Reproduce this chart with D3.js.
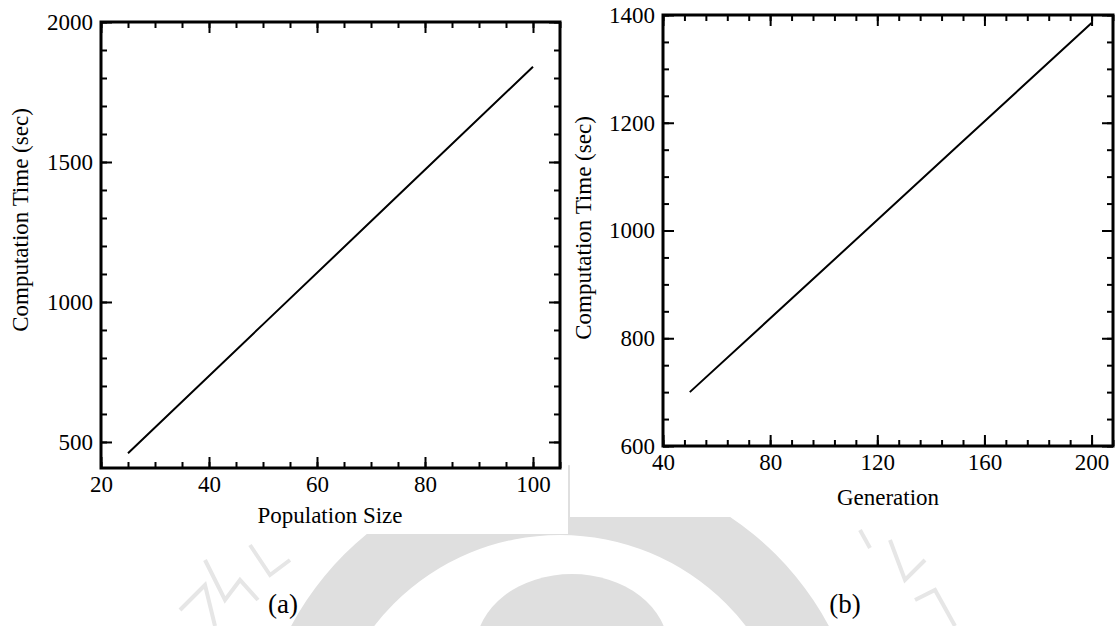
<!DOCTYPE html>
<html>
<head>
<meta charset="utf-8">
<script src="https://cdn.jsdelivr.net/npm/d3@7/dist/d3.min.js"></script>
<style>
    body { margin: 0; background: #fff; }
    text { font-family: "Liberation Serif", "Times New Roman", serif; fill: #000; }
</style>
</head>
<body>
<svg id="figura" width="1115" height="626"></svg>
<script>
// Datos del grafico (a): tiempo frente a tamaño de poblacion
var poblacion = [25, 50, 75, 100];
var tiempoPoblacion = [460, 920, 1380, 1840];
var ticksPoblacion = [20, 40, 60, 80, 100];
var ticksTiempoA = [500, 1000, 1500, 2000];

// Datos del grafico (b): tiempo frente a generaciones
var generaciones = [50, 100, 150, 200];
var tiempoGeneracion = [700, 928, 1157, 1385];
var ticksGeneracion = [40, 80, 120, 160, 200];
var ticksTiempoB = [600, 800, 1000, 1200, 1400];

var svg = d3.select("#figura");
var FUENTE = "'Liberation Serif', 'Times New Roman', serif";

/**
 * Marca de agua gris del fondo (anillo, cupula y trazos laterales)
 */
function dibujarMarcaAgua() {
    var g = svg.append("g").attr("fill", "#dfdfdf");
    var anillo = d3.arc()
        .innerRadius(235)
        .outerRadius(305)
        .startAngle(0)
        .endAngle(2 * Math.PI);
    g.append("path")
        .attr("transform", "translate(560,770)")
        .attr("d", anillo());
    g.append("ellipse")
        .attr("cx", 572).attr("cy", 648)
        .attr("rx", 96).attr("ry", 74);

    // Trazos tenues a los lados
    var trazos = [
        [[205, 560], [225, 600], [240, 580], [258, 600]],
        [[180, 610], [205, 585], [215, 626]],
        [[250, 545], [270, 575], [290, 560]],
        [[890, 540], [905, 580], [925, 560]],
        [[915, 600], [935, 590], [955, 626]],
        [[860, 530], [870, 548]]
    ];
    svg.append("g").selectAll("path")
        .data(trazos)
        .enter().append("path")
        .attr("d", d3.line())
        .attr("fill", "none")
        .attr("stroke", "#e6e6e6")
        .attr("stroke-width", 4);
}

/**
 * Dibuja un panel con marco, ticks en los cuatro lados y la linea
 */
function dibujarPanel(cfg) {
    // Fondo blanco del panel (tapa la marca de agua)
    svg.append("rect")
        .attr("x", cfg.fondo[0]).attr("y", cfg.fondo[1])
        .attr("width", cfg.fondo[2]).attr("height", cfg.fondo[3])
        .attr("fill", "#fff");

    var g = svg.append("g")
        .attr("transform", "translate(" + cfg.left + "," + cfg.top + ")");

    var x = d3.scaleLinear().domain(cfg.xDom).range([0, cfg.width]);
    var y = d3.scaleLinear().domain(cfg.yDom).range([cfg.height, 0]);

    var xMenores = d3.range(cfg.xDom[0], cfg.xDom[1] + 0.01, cfg.xPaso);
    var yMenores = d3.range(cfg.yMin, cfg.yDom[1] + 0.01, cfg.yPaso);

    // Ticks menores y mayores en los cuatro lados, hacia dentro
    function ejes(generador, valores, tam, trans, conTexto) {
        var eje = generador.tickValues(valores).tickSizeInner(-tam).tickSizeOuter(0).tickPadding(8)
            .tickFormat(conTexto ? d3.format("d") : "");
        var sel = g.append("g").attr("transform", trans).call(eje)
            .attr("font-family", FUENTE).attr("font-size", 23);
        sel.select(".domain").remove();
        sel.selectAll("line").attr("stroke", "#000").attr("stroke-width", 2);
        sel.selectAll("text").attr("fill", "#000");
        return sel;
    }
    ejes(d3.axisBottom(x), xMenores, 6, "translate(0," + cfg.height + ")", false);
    ejes(d3.axisBottom(x), cfg.xTicks, 11, "translate(0," + cfg.height + ")", true)
        .selectAll("text").attr("dy", "0.7em");
    ejes(d3.axisTop(x), xMenores, 6, "translate(0,0)", false);
    ejes(d3.axisTop(x), cfg.xTicks, 11, "translate(0,0)", false);
    ejes(d3.axisLeft(y), yMenores, 6, "translate(0,0)", false);
    ejes(d3.axisLeft(y), cfg.yTicks, 11, "translate(0,0)", true);
    ejes(d3.axisRight(y), yMenores, 6, "translate(" + cfg.width + ",0)", false);
    ejes(d3.axisRight(y), cfg.yTicks, 11, "translate(" + cfg.width + ",0)", false);

    // Marco
    g.append("rect")
        .attr("width", cfg.width).attr("height", cfg.height)
        .attr("fill", "none").attr("stroke", "#000").attr("stroke-width", 3);

    // Linea de datos
    var puntos = cfg.xs.map(function (d, i) { return [d, cfg.ys[i]]; });
    var linea = d3.line()
        .x(function (d) { return x(d[0]); })
        .y(function (d) { return y(d[1]); });
    g.append("path")
        .datum(puntos)
        .attr("d", linea)
        .attr("fill", "none")
        .attr("stroke", "#000")
        .attr("stroke-width", 2);

    // Titulos de los ejes
    svg.append("text")
        .attr("x", cfg.xLab[0]).attr("y", cfg.xLab[1])
        .attr("text-anchor", "middle")
        .style("font-size", "23px")
        .text(cfg.xTitulo);
    svg.append("text")
        .attr("transform", "translate(" + cfg.yLab[0] + "," + cfg.yLab[1] + ") rotate(-90)")
        .attr("text-anchor", "middle")
        .style("font-size", "23px")
        .text(cfg.yTitulo);

    // Subtitulo (a) / (b)
    svg.append("text")
        .attr("x", cfg.sub[0]).attr("y", cfg.sub[1])
        .attr("text-anchor", "middle")
        .style("font-size", "27px")
        .text(cfg.subTexto);
}

dibujarMarcaAgua();

dibujarPanel({
    fondo: [0, 0, 568, 534],
    left: 101, top: 22, width: 459, height: 446,
    xDom: [20, 105], yDom: [407, 2000], yMin: 500,
    xPaso: 5, yPaso: 100,
    xTicks: ticksPoblacion, yTicks: ticksTiempoA,
    xs: poblacion, ys: tiempoPoblacion,
    xTitulo: "Population Size", xLab: [330, 523],
    yTitulo: "Computation Time (sec)", yLab: [28, 220],
    subTexto: "(a)", sub: [283, 613]
});

dibujarPanel({
    fondo: [570, 0, 545, 517],
    left: 663, top: 15, width: 450, height: 431,
    xDom: [40, 208], yDom: [600, 1400], yMin: 600,
    xPaso: 8, yPaso: 50,
    xTicks: ticksGeneracion, yTicks: ticksTiempoB,
    xs: generaciones, ys: tiempoGeneracion,
    xTitulo: "Generation", xLab: [888, 505],
    yTitulo: "Computation Time (sec)", yLab: [591, 228],
    subTexto: "(b)", sub: [845, 613]
});
</script>
</body>
</html>
